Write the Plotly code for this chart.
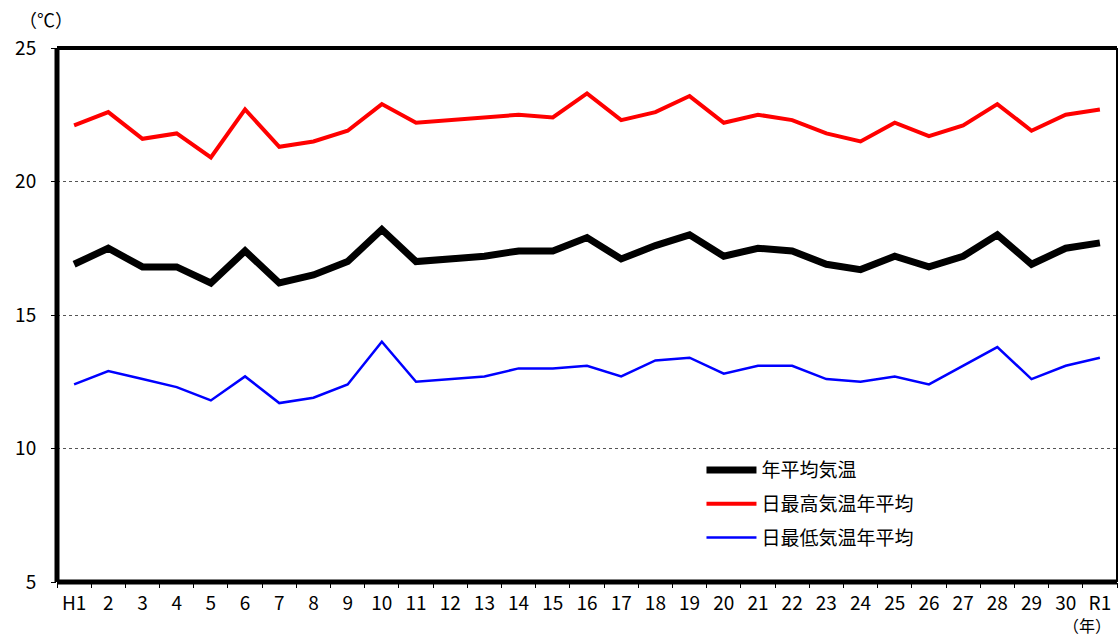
import plotly.graph_objects as go

# 年次ラベル（平成元年〜令和元年）
years = ["H1"] + [str(i) for i in range(2, 31)] + ["R1"]

# 年平均気温（℃）
mean_temp = [16.9, 17.5, 16.8, 16.8, 16.2, 17.4, 16.2, 16.5, 17.0, 18.2,
             17.0, 17.1, 17.2, 17.4, 17.4, 17.9, 17.1, 17.6, 18.0, 17.2,
             17.5, 17.4, 16.9, 16.7, 17.2, 16.8, 17.2, 18.0, 16.9, 17.5, 17.7]

# 日最高気温年平均（℃）
max_temp = [22.1, 22.6, 21.6, 21.8, 20.9, 22.7, 21.3, 21.5, 21.9, 22.9,
            22.2, 22.3, 22.4, 22.5, 22.4, 23.3, 22.3, 22.6, 23.2, 22.2,
            22.5, 22.3, 21.8, 21.5, 22.2, 21.7, 22.1, 22.9, 21.9, 22.5, 22.7]

# 日最低気温年平均（℃）
min_temp = [12.4, 12.9, 12.6, 12.3, 11.8, 12.7, 11.7, 11.9, 12.4, 14.0,
            12.5, 12.6, 12.7, 13.0, 13.0, 13.1, 12.7, 13.3, 13.4, 12.8,
            13.1, 13.1, 12.6, 12.5, 12.7, 12.4, 13.1, 13.8, 12.6, 13.1, 13.4]

y_ticks = [5, 10, 15, 20, 25]

FONT = "Noto Sans CJK JP, Arial, sans-serif"

fig = go.Figure()
fig.add_trace(go.Scatter(x=years, y=mean_temp, mode="lines", name="年平均気温",
                         legendgroup="a",
                         line=dict(color="#000000", width=7)))
fig.add_trace(go.Scatter(x=years, y=max_temp, mode="lines", name="日最高気温年平均",
                         legendgroup="b",
                         line=dict(color="#ff0000", width=4)))
fig.add_trace(go.Scatter(x=years, y=min_temp, mode="lines", name="日最低気温年平均",
                         legendgroup="c",
                         line=dict(color="#0000ff", width=2.5)))

# 枠線（左・上・下は太線、右は細線）
frame = [
    dict(x0=0, x1=0, y0=0, y1=1, w=5),
    dict(x0=0, x1=1, y0=1, y1=1, w=4),
    dict(x0=0, x1=1, y0=0, y1=0, w=5),
    dict(x0=1, x1=1, y0=0, y1=1, w=2),
]
for f in frame:
    fig.add_shape(type="line", xref="paper", yref="paper",
                  x0=f["x0"], x1=f["x1"], y0=f["y0"], y1=f["y1"],
                  line=dict(color="#000000", width=f["w"]), layer="above")

fig.update_layout(
    width=1119, height=637,
    margin=dict(l=57, r=2, t=48, b=55),
    paper_bgcolor="white", plot_bgcolor="white",
    font=dict(family=FONT, color="#000000", size=18),
    showlegend=True,
    legend=dict(x=0.608, y=0.245, xanchor="left", yanchor="top",
                bgcolor="rgba(0,0,0,0)", font=dict(size=19, family=FONT),
                tracegroupgap=6, itemwidth=50),
    xaxis=dict(type="category", categoryorder="array", categoryarray=years,
               range=[-0.5, len(years) - 0.5],
               showgrid=False, showline=False, zeroline=False,
               ticks="outside", ticklen=5, tickwidth=1, tickcolor="#000000",
               tickson="boundaries", ticklabelstandoff=8,
               tickfont=dict(size=19, family=FONT)),
    yaxis=dict(range=[5, 25], tickvals=y_ticks, ticktext=[str(v) for v in y_ticks],
               showgrid=True, gridcolor="#555555", griddash="dot", gridwidth=1,
               showline=False, zeroline=False,
               ticks="outside", ticklen=5, tickwidth=1, tickcolor="#000000",
               ticklabelstandoff=11,
               tickfont=dict(size=19, family=FONT)),
)

fig.add_annotation(text="（℃）", xref="paper", yref="paper", x=-0.01, y=1.0,
                   xanchor="center", yanchor="bottom", yshift=14, showarrow=False,
                   font=dict(size=18, family=FONT))
fig.add_annotation(text="（年）", xref="paper", yref="paper", x=0.972, y=-0.081,
                   xanchor="center", yanchor="middle", showarrow=False,
                   font=dict(size=16, family=FONT))

fig.write_html("out.html")
